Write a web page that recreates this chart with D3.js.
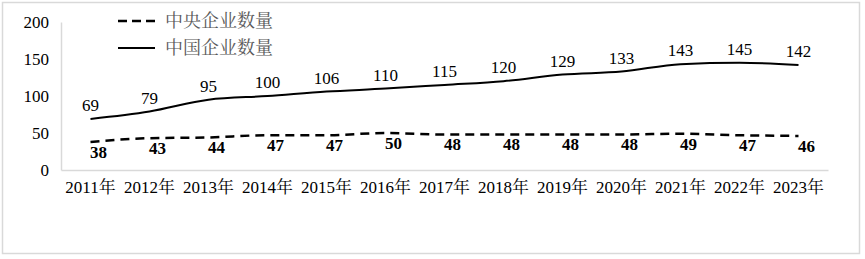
<!DOCTYPE html>
<html>
<head>
<meta charset="utf-8">
<script src="https://cdn.jsdelivr.net/npm/d3@7"></script>
<style>
body { margin: 0; background: #fff; }
#chart text { font-family: 'Liberation Serif', 'Noto Serif CJK SC', serif; }
#chart .legend text { font-family: 'Noto Serif CJK SC', serif; }
</style>
</head>
<body>
<svg id="chart" width="865" height="259"></svg>
<script>
// data
var years = ["2011年", "2012年", "2013年", "2014年", "2015年", "2016年", "2017年",
	"2018年", "2019年", "2020年", "2021年", "2022年", "2023年"];
var centralCount = [38, 43, 44, 47, 47, 50, 48, 48, 48, 48, 49, 47, 46];
var chinaCount = [69, 79, 95, 100, 106, 110, 115, 120, 129, 133, 143, 145, 142];
var yTicks = [0, 50, 100, 150, 200];
var seriesNames = ["中央企业数量", "中国企业数量"];

var svg = d3.select("#chart");

// outer frame
svg.append("rect")
	.attr("x", 2.5).attr("y", 2.5)
	.attr("width", 857).attr("height", 251)
	.attr("fill", "none")
	.attr("stroke", "#d9d9d9")
	.attr("stroke-width", 1.5);

var margin = {left: 61, right: 37, top: 22, bottom: 89};
var width = 865 - margin.left - margin.right;
var height = 259 - margin.top - margin.bottom;

var x = d3.scaleBand().domain(years).range([0, width]);
var y = d3.scaleLinear().domain([0, 200]).range([height, 0]);

var g = svg.append("g")
	.attr("transform", "translate(" + margin.left + "," + margin.top + ")");

// axes
var yAxis = g.append("g").call(d3.axisLeft(y).tickValues(yTicks).tickSize(0).tickPadding(12));
var xAxis = g.append("g").attr("transform", "translate(0," + height + ")")
	.call(d3.axisBottom(x).tickSize(0).tickPadding(11));
[xAxis, yAxis].forEach(function(a) {
	a.attr("font-family", null).attr("font-size", 17);
	a.select(".domain").attr("stroke", "#d9d9d9").attr("stroke-width", 1.5);
	a.selectAll("text").attr("fill", "#000");
});

var cx = function(d, i) { return x(years[i]) + x.bandwidth() / 2; };
var line = d3.line().x(cx).y(function(d) { return y(d); }).curve(d3.curveMonotoneX);

g.append("path").datum(chinaCount)
	.attr("d", line)
	.attr("fill", "none")
	.attr("stroke", "#000")
	.attr("stroke-width", 2);

g.append("path").datum(centralCount)
	.attr("d", line)
	.attr("fill", "none")
	.attr("stroke", "#000")
	.attr("stroke-width", 2.5)
	.attr("stroke-dasharray", "9,6");

// labels
g.selectAll(".lbl-china").data(chinaCount).enter().append("text")
	.attr("class", "lbl-china")
	.attr("x", cx)
	.attr("y", function(d) { return y(d) - 8; })
	.attr("text-anchor", "middle")
	.attr("font-size", 17)
	.text(function(d) { return d; });

g.selectAll(".lbl-central").data(centralCount).enter().append("text")
	.attr("class", "lbl-central")
	.attr("x", function(d, i) { return cx(d, i) + 8; })
	.attr("y", function(d) { return y(d) + 16; })
	.attr("text-anchor", "middle")
	.attr("font-size", 17)
	.attr("font-weight", "bold")
	.text(function(d) { return d; });

// legend
var legend = svg.append("g").attr("class", "legend").attr("transform", "translate(118,21)");
seriesNames.forEach(function(name, i) {
	var row = legend.append("g").attr("transform", "translate(0," + (i * 27) + ")");
	row.append("line")
		.attr("x1", 0).attr("x2", 37)
		.attr("stroke", "#000")
		.attr("stroke-width", i == 0 ? 2.5 : 2)
		.attr("stroke-dasharray", i == 0 ? "9,5" : null);
	row.append("text")
		.attr("x", 47).attr("dy", "0.35em")
		.attr("font-size", 18)
		.attr("fill", "#595959")
		.text(name);
});
</script>
</body>
</html>
